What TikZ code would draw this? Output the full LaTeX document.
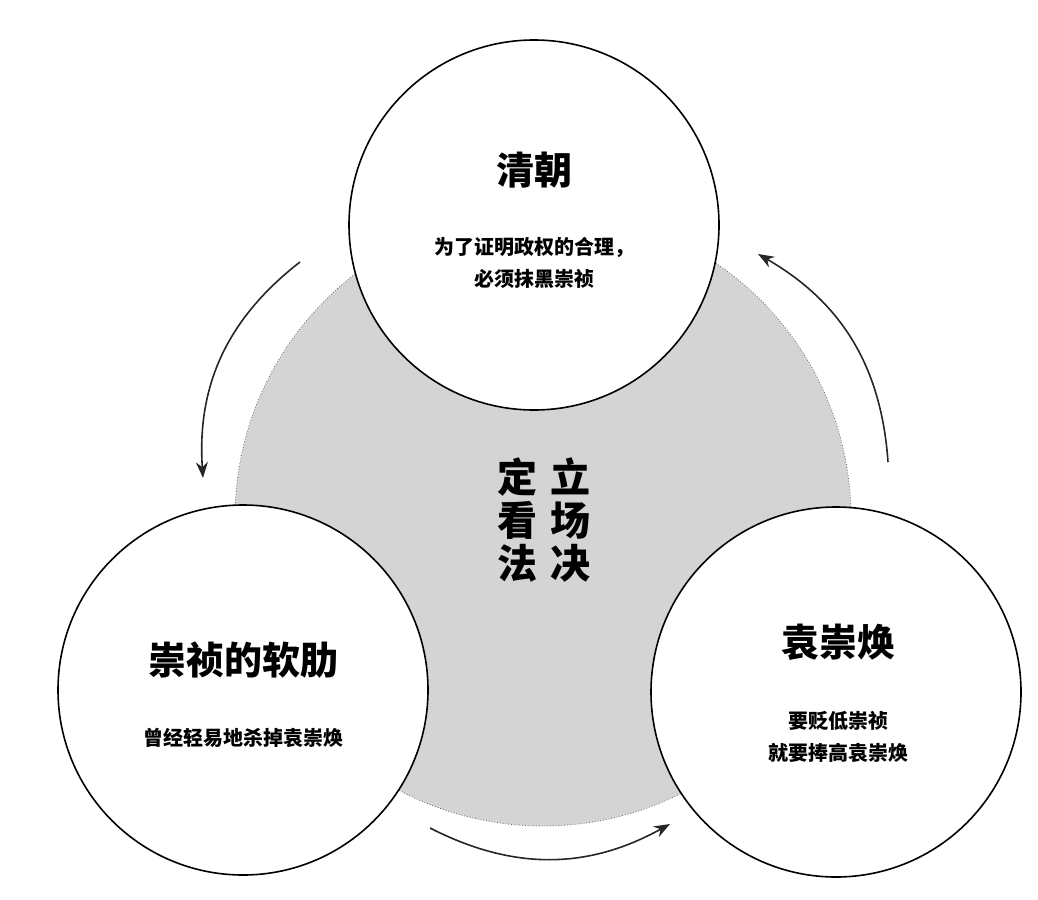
\documentclass[tikz,border=0pt]{standalone}
\usepackage{fontspec}
\setmainfont{Noto Sans CJK SC}
\usetikzlibrary{positioning, arrows.meta}

\tikzset{
  unit/.style={draw, circle, thick, fill=white, minimum size=185pt, inner sep=0pt},
  title/.style={font=\fontsize{19}{22}\selectfont\bfseries},
  note/.style={font=\fontsize{10}{16}\selectfont\bfseries, align=center},
  flow/.style={-{Stealth[length=8pt,width=6pt]}, thick, black!85},
}

\begin{document}
\begin{tikzpicture}[x=0.5pt, y=-0.5pt]
        \useasboundingbox (0,0) rectangle (1038,899);

        % Core
        \node (core) [circle, fill=black!17, draw=black!60, densely dotted, minimum size=308pt] at (543,518) {};

        % Three parties
        \node (qing) [unit] at (534,225) {};
        \node (weak) [unit] at (243,690) {};
        \node (yuan) [unit] at (836,692) {};

        \node (qingT) [title] at (534,170) {清朝};
        \node (qingN) [note] at (534,263) {为了证明政权的合理，\\必须抹黑崇祯};
        \node (weakT) [title] at (243,660) {崇祯的软肋};
        \node (weakN) [note] at (243,738) {曾经轻易地杀掉袁崇焕};
        \node (yuanT) [title] at (838,642) {袁崇焕};
        \node (yuanN) [note] at (838,737) {要贬低崇祯\\就要捧高袁崇焕};

        % Centre text
        \node (stand) [font=\fontsize{20}{21.5}\selectfont\bfseries, align=center] at (570,520) {立\\场\\决};
        \node (view) [font=\fontsize{20}{21.5}\selectfont\bfseries, align=center] at (517,520) {定\\看\\法};

        % Cycle
        \coordinate (a1) at (300,262);
        \coordinate (a2) at (203,478);
        \coordinate (b1) at (430,828);
        \coordinate (b2) at (670,824);
        \coordinate (c1) at (888,462);
        \coordinate (c2) at (758,254);
        \draw [flow] (a1) to[bend right=28] (a2);
        \draw [flow] (b1) to[bend right=28] (b2);
        \draw [flow] (c1) to[bend right=28] (c2);
\end{tikzpicture}
\end{document}
